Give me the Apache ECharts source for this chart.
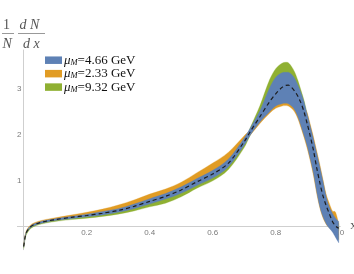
<!DOCTYPE html>
<html>
<head>
<meta charset="utf-8">
<script src="https://cdn.jsdelivr.net/npm/echarts@6/dist/echarts.min.js"></script>
<style>html,body{margin:0;padding:0;background:#fff}#c{width:354px;height:274px}</style>
</head>
<body>
<div id="c"></div>
<script>
const xs = [0, 0.005, 0.01, 0.02, 0.03, 0.05, 0.075, 0.1, 0.15, 0.2, 0.25, 0.3, 0.35, 0.4, 0.45, 0.5, 0.55, 0.6, 0.65, 0.7, 0.72, 0.75, 0.78, 0.8, 0.82, 0.83, 0.84, 0.85, 0.86, 0.87, 0.88, 0.89, 0.9, 0.91, 0.92, 0.93, 0.94, 0.95, 0.96, 0.97, 0.98, 0.99, 1.0];
const center = [-0.45, -0.22, -0.12, -0.03, 0.02, 0.07, 0.11, 0.14, 0.19, 0.23,
  0.28, 0.34, 0.43, 0.54, 0.65, 0.79, 0.97, 1.14, 1.38, 1.85,
  2.08, 2.4, 2.72, 2.9, 3.04, 3.08, 3.09, 3.04, 2.96, 2.85,
  2.7, 2.5, 2.24, 1.96, 1.65, 1.28, 0.95, 0.66, 0.45, 0.27,
  0.1, 0.0, -0.05];
const blueLo = [-0.47, -0.24, -0.14, -0.05, 0.0, 0.05, 0.09, 0.12, 0.16, 0.2,
  0.24, 0.3, 0.38, 0.48, 0.59, 0.72, 0.89, 1.05, 1.3, 1.77,
  2.0, 2.28, 2.5, 2.63, 2.68, 2.69, 2.68, 2.63, 2.55, 2.4,
  2.2, 1.98, 1.75, 1.46, 1.15, 0.75, 0.42, 0.2, 0.05, -0.05,
  -0.13, -0.25, -0.37];
const blueHi = [-0.43, -0.2, -0.1, -0.01, 0.04, 0.09, 0.13, 0.16, 0.21, 0.26,
  0.32, 0.38, 0.48, 0.6, 0.71, 0.86, 1.04, 1.22, 1.47, 1.93,
  2.16, 2.53, 3.02, 3.26, 3.36, 3.37, 3.37, 3.33, 3.24, 3.1,
  2.93, 2.72, 2.45, 2.18, 1.9, 1.6, 1.3, 0.98, 0.65, 0.42,
  0.28, 0.17, 0.1];
const orangeLo = [-0.45, -0.22, -0.12, -0.03, 0.02, 0.07, 0.11, 0.14, 0.19, 0.23,
  0.28, 0.34, 0.43, 0.54, 0.65, 0.79, 0.97, 1.14, 1.38, 1.85,
  2.0, 2.25, 2.47, 2.58, 2.63, 2.64, 2.63, 2.58, 2.5, 2.36,
  2.16, 1.94, 1.7, 1.42, 1.1, 0.72, 0.4, 0.18, 0.04, -0.04,
  -0.1, -0.2, -0.3];
const orangeHi = [-0.42, -0.18, -0.08, 0.01, 0.06, 0.11, 0.15, 0.18, 0.24, 0.3,
  0.37, 0.46, 0.57, 0.7, 0.81, 0.96, 1.17, 1.38, 1.62, 1.98,
  2.12, 2.45, 2.78, 2.95, 3.0, 3.0, 3.0, 2.98, 2.92, 2.85,
  2.72, 2.6, 2.48, 2.22, 1.95, 1.65, 1.35, 1.02, 0.7, 0.5,
  0.33, 0.3, 0.05];
const greenLo = [-0.49, -0.27, -0.17, -0.07, -0.02, 0.03, 0.07, 0.1, 0.14, 0.17,
  0.21, 0.26, 0.33, 0.42, 0.5, 0.64, 0.83, 0.99, 1.24, 1.72,
  2.0, 2.35, 2.68, 2.88, 3.0, 3.05, 3.05, 3.0, 2.92, 2.8,
  2.6, 2.4, 2.15, 1.85, 1.55, 1.2, 0.9, 0.6, 0.4, 0.22,
  0.05, -0.05, -0.1];
const greenHi = [-0.45, -0.22, -0.12, -0.03, 0.02, 0.07, 0.11, 0.14, 0.19, 0.23,
  0.28, 0.34, 0.43, 0.54, 0.65, 0.79, 0.97, 1.14, 1.38, 1.85,
  2.17, 2.64, 3.2, 3.45, 3.57, 3.59, 3.58, 3.5, 3.38, 3.2,
  2.98, 2.75, 2.45, 2.15, 1.85, 1.55, 1.25, 0.95, 0.62, 0.4,
  0.25, 0.12, 0.05];
const bandNames = ['μM=4.66 GeV', 'μM=2.33 GeV', 'μM=9.32 GeV'];
const xTicks = [0.2, 0.4, 0.6, 0.8, 1.0];
const yTicks = [1, 2, 3];

const COLORS = { blue: '#5E81B5', orange: '#E19C24', green: '#8FB032' };

// Smooth cubic (Hermite) path through pixel points that the axes produced.
function curve(pts, start) {
  const n = pts.length;
  const m = pts.map((p, i) => {
    const a = pts[Math.max(i - 1, 0)], b = pts[Math.min(i + 1, n - 1)];
    return (b[1] - a[1]) / (b[0] - a[0]);
  });
  let d = (start ? 'M' : 'L') + pts[0][0].toFixed(2) + ' ' + pts[0][1].toFixed(2);
  for (let i = 0; i < n - 1; i++) {
    const dx = pts[i + 1][0] - pts[i][0];
    const c1x = pts[i][0] + dx / 3, c1y = pts[i][1] + m[i] * dx / 3;
    const c2x = pts[i + 1][0] - dx / 3, c2y = pts[i + 1][1] - m[i + 1] * dx / 3;
    d += ' C' + c1x.toFixed(2) + ' ' + c1y.toFixed(2) + ' ' + c2x.toFixed(2) + ' ' + c2y.toFixed(2) +
      ' ' + pts[i + 1][0].toFixed(2) + ' ' + pts[i + 1][1].toFixed(2);
  }
  return d;
}

// Each band: upper edge left→right, lower edge right→left, vertices from api.coord.
function band(name, lo, hi, color) {
  return {
    type: 'custom', name: name, coordinateSystem: 'cartesian2d', silent: true, clip: false,
    itemStyle: { color: color },
    data: [[0, 0]],
    encode: { x: 0, y: 1 },
    renderItem: function (params, api) {
      const top = xs.map((x, i) => api.coord([x, hi[i]]));
      const bot = xs.map((x, i) => api.coord([x, lo[i]])).reverse();
      return {
        type: 'path',
        shape: { pathData: curve(top, true) + ' ' + curve(bot, false) + ' Z' },
        style: { fill: color, stroke: color, lineWidth: 0.3 }
      };
    }
  };
}

const chart = echarts.init(document.getElementById('c'), null, { renderer: 'canvas' });
const labelFont = { fontFamily: 'Liberation Sans', fontSize: 8, color: '#7a7a7a' };
chart.setOption({
  animation: false,
  grid: { left: 17.4, right: 13.7, top: 50, bottom: 24.3, outerBoundsMode: 'none' },
  xAxis: {
    type: 'value', min: -0.02, max: 1.005,
    name: 'x', nameLocation: 'end', nameGap: 3,
    nameTextStyle: { fontFamily: 'Liberation Serif', fontSize: 13, color: '#555' },
    axisLine: { onZero: true, lineStyle: { color: '#cfcfcf', width: 1 } },
    axisTick: { show: false },
    splitLine: { show: false },
    axisLabel: Object.assign({ customValues: xTicks, margin: -21, formatter: v => v.toFixed(1) }, labelFont)
  },
  yAxis: {
    type: 'value', min: -0.52, max: 3.86,
    axisLine: { onZero: true, lineStyle: { color: '#cfcfcf', width: 1 } },
    axisTick: { show: false },
    splitLine: { show: false },
    axisLabel: Object.assign({ customValues: yTicks, margin: -4, formatter: v => String(v) }, labelFont)
  },
  legend: {
    orient: 'vertical', left: 45, top: 53.7, padding: 0,
    itemWidth: 17, itemHeight: 7.5, itemGap: 0.2,
    icon: 'rect', selectedMode: false,
    data: bandNames,
    formatter: n => '{i|μ}{s|M}{n|' + n.slice(2) + '}',
    textStyle: {
      padding: [0, 0, 0, -3],
      rich: {
        i: { fontFamily: 'Liberation Serif', fontStyle: 'italic', fontSize: 13, color: '#111', lineHeight: 13.5 },
        s: { fontFamily: 'Liberation Serif', fontStyle: 'italic', fontSize: 8.5, color: '#111', lineHeight: 5, verticalAlign: 'bottom' },
        n: { fontFamily: 'Liberation Serif', fontSize: 13, color: '#111', lineHeight: 13.5 }
      }
    }
  },
  graphic: [
    { type: 'text', left: 3, top: 18, style: { text: '1', font: '14px "Liberation Serif"', fill: '#555' } },
    { type: 'line', shape: { x1: 2, y1: 33.5, x2: 14, y2: 33.5 }, style: { stroke: '#999', lineWidth: 1 } },
    { type: 'text', left: 2.5, top: 37, style: { text: 'N', font: 'italic 14px "Liberation Serif"', fill: '#555' } },
    { type: 'text', left: 19.5, top: 18, style: { text: 'd N', font: 'italic 14px "Liberation Serif"', fill: '#555' } },
    { type: 'line', shape: { x1: 18, y1: 33.5, x2: 45, y2: 33.5 }, style: { stroke: '#999', lineWidth: 1 } },
    { type: 'text', left: 23, top: 37, style: { text: 'd x', font: 'italic 14px "Liberation Serif"', fill: '#555' } }
  ],
  series: [
    band(bandNames[2], greenLo, greenHi, COLORS.green),
    band(bandNames[1], orangeLo, orangeHi, COLORS.orange),
    band(bandNames[0], blueLo, blueHi, COLORS.blue),
    { type: 'line', data: xs.map((x, i) => [x, center[i]]), symbol: 'none', silent: true, smooth: 0.3,
      lineStyle: { color: '#1c1c1c', width: 1.2, type: [4, 3] } }
  ]
});
</script>
</body>
</html>
